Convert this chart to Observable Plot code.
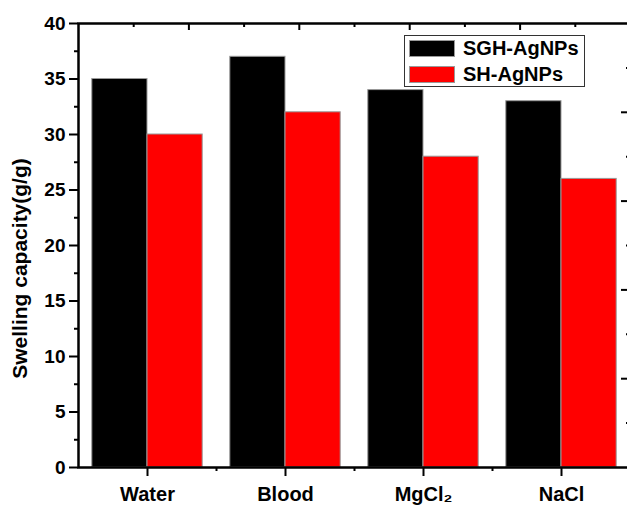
<!DOCTYPE html>
<html>
<head>
<meta charset="utf-8">
<script src="https://cdn.jsdelivr.net/npm/d3@7"></script>
<script src="https://cdn.jsdelivr.net/npm/@observablehq/plot@0.6"></script>
<style>
  body { margin: 0; background: #fff; font-family: "Liberation Sans", Arial, sans-serif; }
  #wrap { position: relative; width: 627px; height: 507px; overflow: hidden; }
  #wrap svg { max-width: none !important; }
  #legend { position: absolute; left: 404px; top: 35px; width: 181px; height: 52px; border: 1px solid #333; background: #fff; box-sizing: border-box; }
  .row { position: absolute; left: 4px; height: 17px; display: flex; align-items: center; }
  .sw { width: 46px; height: 17px; box-sizing: border-box; border: 1px solid #999; }
  .lab { margin-left: 8px; font-size: 20px; font-weight: bold; color: #000; white-space: nowrap; }
</style>
</head>
<body>
<div id="wrap"></div>
<script>
const categories = ["Water", "Blood", "MgCl₂", "NaCl"];
const seriesNames = ["SGH-AgNPs", "SH-AgNPs"];
const sghValues = [35, 37, 34, 33];
const shValues = [30, 32, 28, 26];
const seriesColors = ["#000000", "#ff0000"];
const yMajor = [0, 5, 10, 15, 20, 25, 30, 35, 40];
const yMinor = [2.5, 7.5, 12.5, 17.5, 22.5, 27.5, 32.5, 37.5];
const xMinor = [1.5, 2.5, 3.5];
const topMajor = [1.3, 2.1, 2.9, 3.7];
const topMinor = [0.9, 1.7, 2.5, 3.3, 4.1];
const rightMajor = [8, 16, 24, 32];
const rightMinor = [4, 12, 20, 28, 36];
const yLabel = "Swelling capacity(g/g)";

const barW = 0.4;
const table = [];
categories.forEach((c, i) => {
  table.push({cat: c, series: seriesNames[0], x1: i + 1 - barW, x2: i + 1, v: sghValues[i]});
  table.push({cat: c, series: seriesNames[1], x1: i + 1, x2: i + 1 + barW, v: shValues[i]});
});

const W = 632, H = 507, mL = 78, mR = 2, mT = 23, mB = 40;
const fw = W - mL - mR, fh = H - mT - mB;

const chart = Plot.plot({
  width: W, height: H,
  marginLeft: mL, marginRight: mR, marginTop: mT, marginBottom: mB,
  style: {fontFamily: "'Liberation Sans', Arial, sans-serif", background: "#fff", color: "#000", maxWidth: "none"},
  x: {domain: [0.5, 4.5], axis: null},
  y: {domain: [0, 40], axis: null},
  color: {domain: seriesNames, range: seriesColors},
  marks: [
    Plot.rectY(table, {x1: "x1", x2: "x2", y: "v", fill: "series", stroke: "#999", strokeWidth: 1}),
    Plot.frame({stroke: "#000", strokeWidth: 2.5}),
    Plot.axisY({ticks: yMajor, tickSize: 9, tickPadding: 4, fontSize: 19, fontWeight: "bold", strokeWidth: 2, label: null, tickFormat: d => String(d)}),
    Plot.axisY({ticks: yMinor, tickSize: 4, fill: "none", strokeWidth: 2, label: null}),
    Plot.axisX({ticks: [1, 2, 3, 4], tickFormat: i => categories[i - 1], tickSize: 9, tickPadding: 10, fontSize: 20, fontWeight: "bold", strokeWidth: 2, label: null}),
    Plot.axisX({ticks: xMinor, tickSize: 4, fill: "none", strokeWidth: 2, label: null}),
    Plot.ruleX(topMajor, {x: d => d, insetBottom: fh - 7, stroke: "#000", strokeWidth: 2}),
    Plot.ruleX(topMinor, {x: d => d, insetBottom: fh - 4, stroke: "#000", strokeWidth: 2}),
    Plot.ruleY(rightMajor, {y: d => d, insetLeft: fw - 9, stroke: "#000", strokeWidth: 2}),
    Plot.ruleY(rightMinor, {y: d => d, insetLeft: fw - 4, stroke: "#000", strokeWidth: 2}),
    Plot.text([yLabel], {text: d => d, frameAnchor: "left", textAnchor: "middle", dx: -58, dy: 23, rotate: -90, fontSize: 21, fontWeight: "bold", fill: "#000"})
  ]
});

const wrap = document.getElementById("wrap");
wrap.appendChild(chart);

const legend = document.createElement("div");
legend.id = "legend";
seriesNames.forEach((s, i) => {
  const row = document.createElement("div");
  row.className = "row";
  row.style.top = (i === 0 ? 4 : 30) + "px";
  const sw = document.createElement("div");
  sw.className = "sw";
  sw.style.background = seriesColors[i];
  const lab = document.createElement("span");
  lab.className = "lab";
  lab.textContent = s;
  row.appendChild(sw);
  row.appendChild(lab);
  legend.appendChild(row);
});
wrap.appendChild(legend);
</script>
</body>
</html>
